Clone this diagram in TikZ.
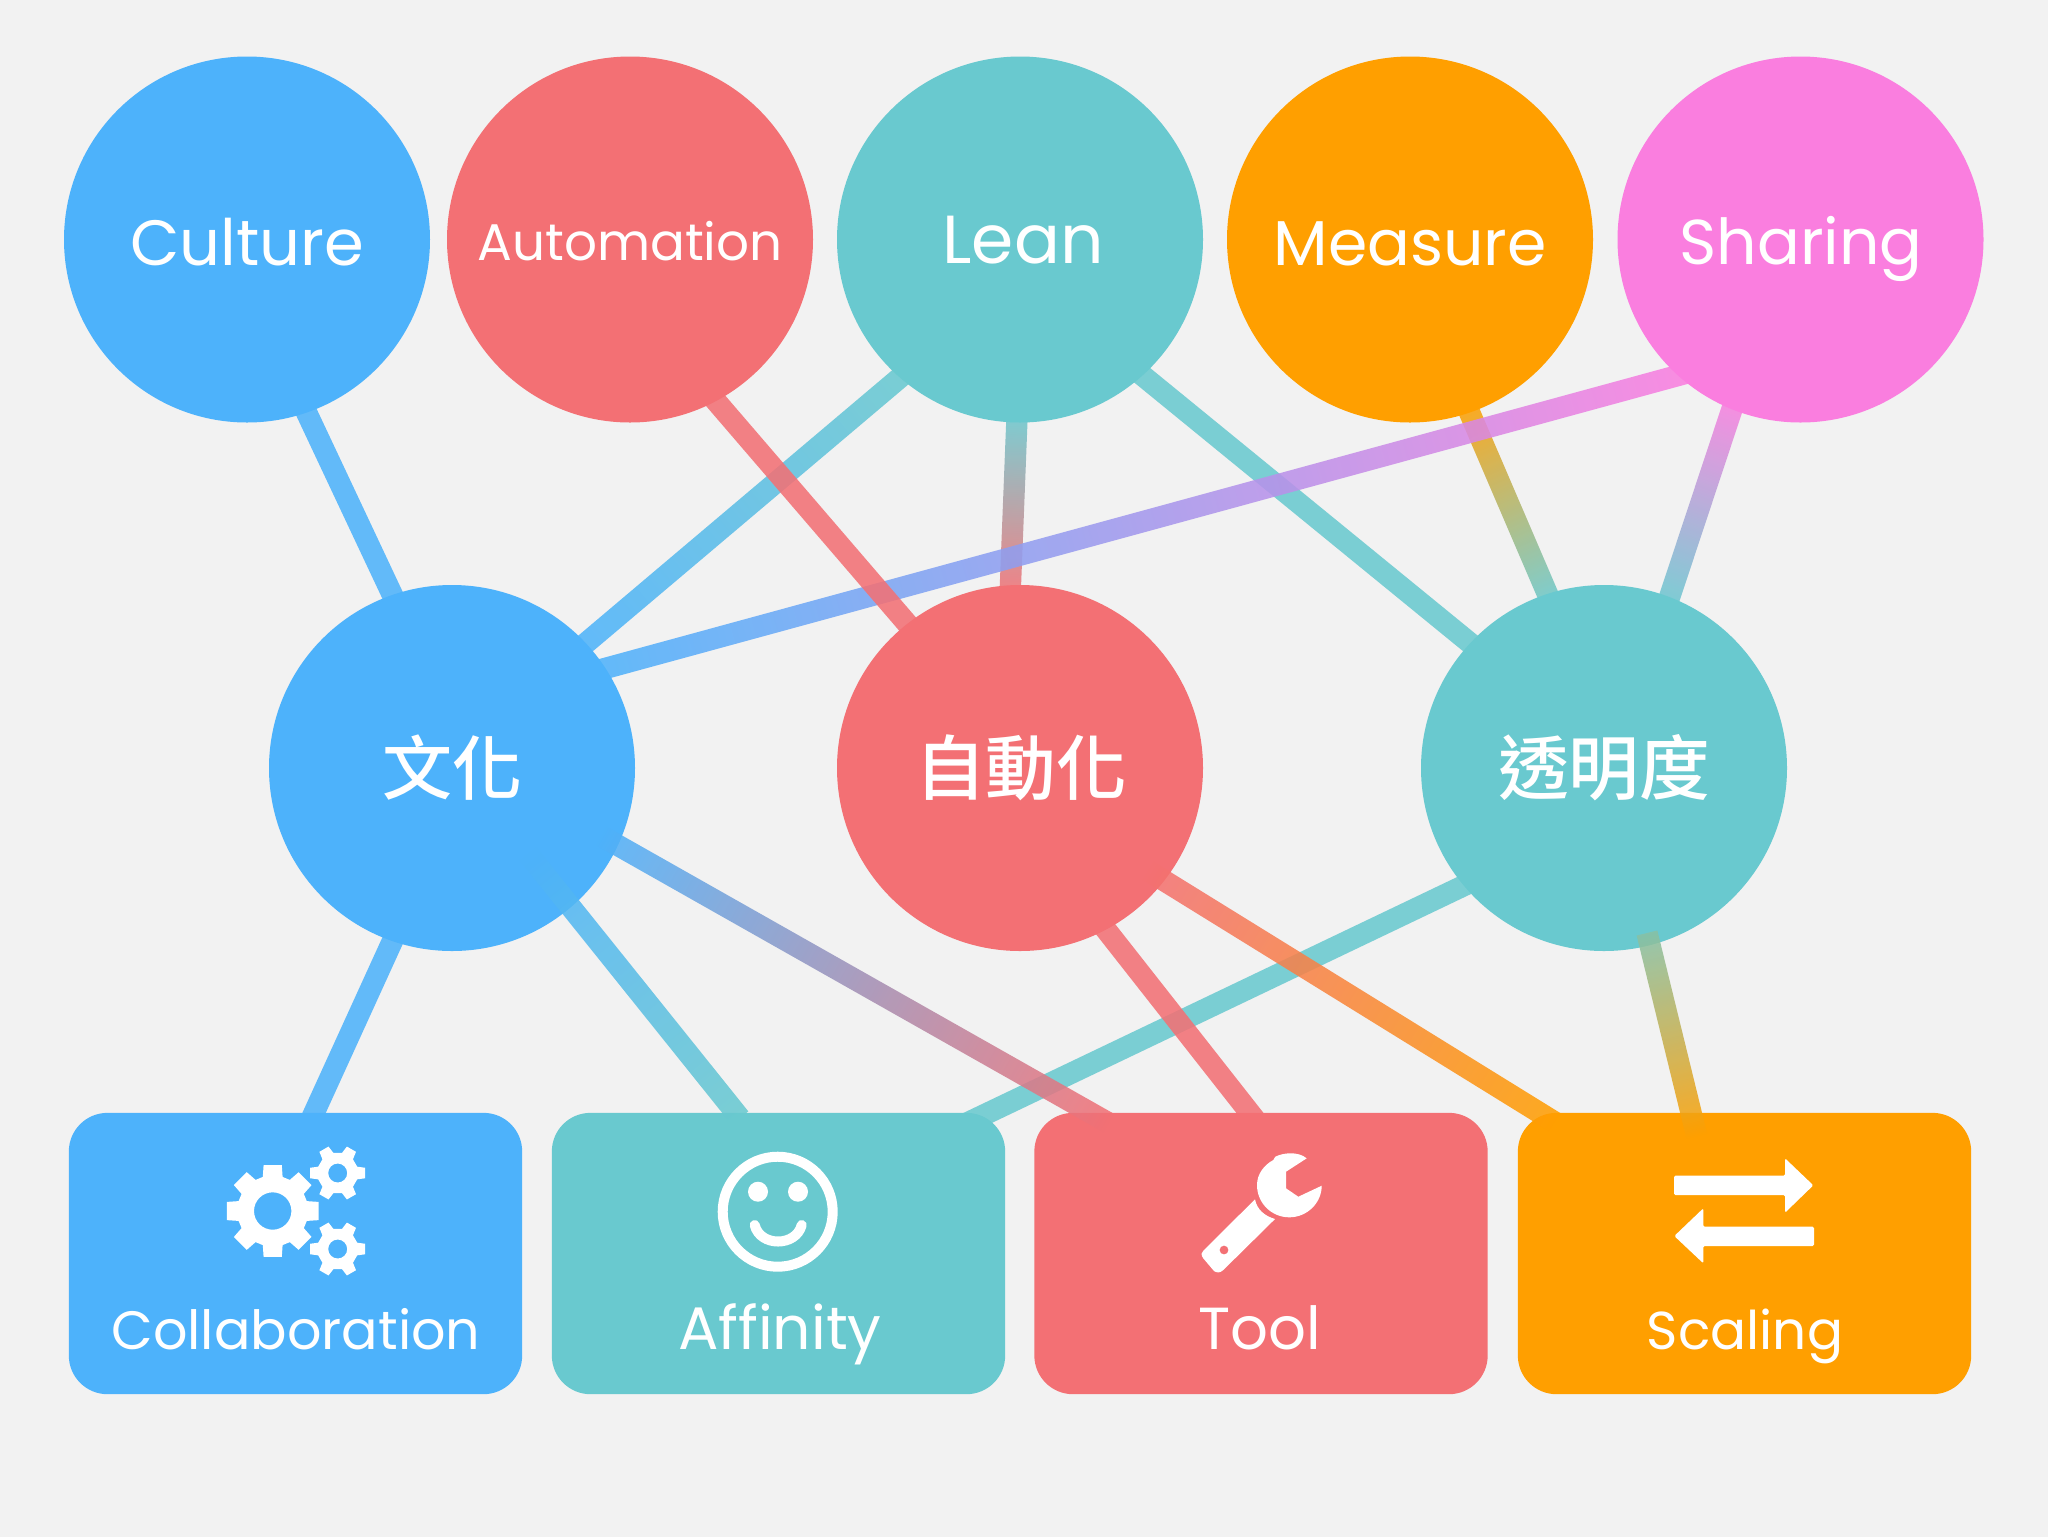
\documentclass[tikz,border=0pt]{standalone}
\usepackage{fontspec}
\usetikzlibrary{calc}
\setmainfont{Poppins}
\newfontfamily\cjk{Noto Sans CJK TC}[UprightFont=* Medium]
\definecolor{bgc}{HTML}{F2F2F2}
\definecolor{cblue}{HTML}{4DB2FB}
\definecolor{cred}{HTML}{F37074}
\definecolor{cteal}{HTML}{69C9CF}
\definecolor{corange}{HTML}{FF9F00}
\definecolor{cpink}{HTML}{FA7EDF}
\pgfdeclarelayer{bg}\pgfdeclarelayer{back}\pgfdeclarelayer{front}
\pgfsetlayers{bg,back,main,front}
\tikzset{
  bub/.style={circle,minimum size=274.5pt,inner sep=0pt,outer sep=0pt,fill=#1},
  card/.style={rectangle,rounded corners=29pt,minimum width=340pt,minimum height=211pt,inner sep=0pt,outer sep=0pt,fill=#1},
  lab/.style={text=white,inner sep=0pt,anchor=base},
  icon/.style={fill=white,draw=none},
  iconline/.style={draw=white,line width=7.5pt,fill=none}
}
% gradient connector between two named points: [extension]{from}{to}{colour}{colour}
\newcommand{\glink}[5][10]{%
  \path let \p1=(#2),\p2=(#3),\n1={atan2(\y2-\y1,\x2-\x1)},\n2={veclen(\x2-\x1,\y2-\y1)} in
    \pgfextra{\xdef\gA{\n1}\xdef\gL{\n2}\xdef\gX{\x1}\xdef\gY{\y1}};
  \begin{scope}[transform canvas={shift={(\gX,\gY)},rotate=\gA}]
    \path[left color=#4,right color=#5,opacity=.87]
      ({-#1*0.75pt},-8pt) rectangle ({\gL+#1*0.75pt},8pt);
  \end{scope}}
\newcommand{\gearicon}[9]{% cx cy teeth outer root hole rot basewidth tipwidth
  \begin{scope}[shift={(#1,#2)}]
    \pgfmathsetmacro{\gstep}{360/#3}
    \pgfmathsetmacro{\gwa}{\gstep*#8}
    \pgfmathsetmacro{\gwb}{\gstep*#9}
    \fill[icon,even odd rule] (0,0) circle[radius=#6]
      ({#7-\gwa}:#5)
      \foreach \k in {1,...,#3}{
        -- ({#7+(\k-1)*\gstep-\gwa}:#5)
        -- ({#7+(\k-1)*\gstep-\gwb}:#4)
        -- ({#7+(\k-1)*\gstep+\gwb}:#4)
        -- ({#7+(\k-1)*\gstep+\gwa}:#5)
      } -- cycle;
  \end{scope}}
\begin{document}
\begin{tikzpicture}[x=0.75pt,y=-0.75pt]
\useasboundingbox (0,0) rectangle (2048,1536);
\begin{pgfonlayer}{bg}
  \fill[bgc] (-5,-5) rectangle (2053,1541);
\end{pgfonlayer}
% circles
\node[bub=cblue]   (culture) at (247,239.5) {};
\node[bub=cred]    (auto)    at (630,239.5) {};
\node[bub=cteal]   (lean)    at (1020,239.5) {};
\node[bub=corange] (measure) at (1410,239.5) {};
\node[bub=cpink]   (sharing) at (1800.5,239.5) {};
\node[bub=cblue]   (bunka)   at (452,768) {};
\node[bub=cred]    (jido)    at (1020,768) {};
\node[bub=cteal]   (toumei)  at (1604,768) {};
% cards
\node[card=cblue]   (collab)  at (295.5,1253.5) {};
\node[card=cteal]   (affin)   at (778.5,1253.5) {};
\node[card=cred]    (tool)    at (1261,1253.5) {};
\node[card=corange] (scaling) at (1744.5,1253.5) {};
% free ends
\coordinate (collabTop) at (314,1113);
\coordinate (affinTop)  at (740,1118);
\coordinate (affinCorner) at (967,1123);
\coordinate (toolTopA)  at (1091,1113);
\coordinate (toolTopB)  at (1250,1113);
\coordinate (scaleTopA) at (1540,1113);
\coordinate (scaleIn)   at (1697,1137);
\coordinate (toumeiIn)  at (1647,933);
\coordinate (bunkaIn)   at (525,850);
% connectors behind the nodes
\begin{pgfonlayer}{back}
  \glink{lean.229.6}{bunka.43.9}{cteal}{cblue}
  \glink{lean.269.4}{jido.93}{cteal}{cred}
  \glink{lean.312.7}{toumei.137.2}{cteal}{cteal}
  \glink{measure.289}{toumei.108}{corange}{cteal}
  \glink{sharing.248.3}{toumei.69.3}{cpink}{cteal}
  \glink{sharing.228}{bunka.33}{cpink}{cblue}
  \glink{auto.298.1}{jido.128.8}{cred}{cred}
  \glink{culture.289.5}{bunka.109}{cblue}{cblue}
  \glink{bunka.251}{collabTop}{cblue}{cblue}
\end{pgfonlayer}
% connectors over the nodes
\begin{pgfonlayer}{front}
  \glink[4]{toumei.220.8}{affinCorner}{cteal}{cteal}
  \glink[0]{toumeiIn}{scaleIn}{cteal!80!corange}{corange}
  \glink[0]{bunkaIn}{affinTop}{cblue}{cteal}
  \glink[22]{bunka.335}{toolTopA}{cblue}{cred}
  \glink[14]{jido.298.5}{toolTopB}{cred}{cred}
  \glink[22]{jido.322}{scaleTopA}{cred}{corange}
\end{pgfonlayer}
% texts
\node[lab,font=\fontsize{48}{48}\selectfont] (tCulture) at (247,265) {Culture};
\node[lab,font=\fontsize{38.7}{38.7}\selectfont] (tAuto) at (630,260.5) {Automation};
\node[lab,font=\fontsize{51}{51}\selectfont] (tLean) at (1023,263) {Lean};
\node[lab,font=\fontsize{47.5}{47.5}\selectfont] (tMeasure) at (1410,265) {Measure};
\node[lab,font=\fontsize{47.5}{47.5}\selectfont] (tSharing) at (1801,264) {Sharing};
\node[text=white,inner sep=0pt,font=\cjk\fontsize{52.5}{52.5}\selectfont] (tBunka) at (452,768) {文化};
\node[text=white,inner sep=0pt,font=\cjk\fontsize{53}{53}\selectfont] (tJido) at (1021,768) {自動化};
\node[text=white,inner sep=0pt,font=\cjk\fontsize{53}{53}\selectfont] (tToumei) at (1604,768) {透明度};
\node[lab,font=\fontsize{40.5}{40.5}\selectfont] (tCollab) at (296,1349.5) {Collaboration};
\node[lab,font=\fontsize{45}{45}\selectfont] (tAffin) at (780,1349.5) {Affinity};
\node[lab,font=\fontsize{44.5}{44.5}\selectfont] (tTool) at (1260,1349.5) {Tool};
\node[lab,font=\fontsize{40}{40}\selectfont] (tScale) at (1745,1349.5) {Scaling};
% gears
\gearicon{272.7}{1211}{8}{46.7}{35.5}{18.7}{0}{0.36}{0.25}
\gearicon{337.7}{1173}{6}{28}{20.5}{9.5}{0}{0.30}{0.18}
\gearicon{337.7}{1249}{6}{28}{20.5}{9.5}{0}{0.30}{0.18}
% smiley
\draw[iconline] (777.7,1211.7) circle[radius=55];
\fill[icon] (758,1191.7) circle[radius=10];
\fill[icon] (798,1191.7) circle[radius=10];
\draw[iconline,line cap=round] (754.7,1225) .. controls (760,1247) and (796,1247) .. (801.7,1225);
% wrench
\fill[icon] (1306.7,1158.3) -- (1286,1171.7) -- (1286,1188.3) -- (1298.3,1196.7) -- (1321.7,1185.7)
  .. controls (1321.7,1203) and (1307,1217.3) .. (1289.3,1217.3)
  .. controls (1271.5,1217.3) and (1257,1203) .. (1257,1185)
  .. controls (1257,1174) and (1264,1165) .. (1273.3,1160)
  -- (1275.3,1156.7)
  .. controls (1283,1152.7) and (1298,1151) .. (1306.7,1158.3) -- cycle;
\fill[icon,even odd rule] (1224,1250) circle[radius=4.5]
  (1255,1199.3) .. controls (1257,1210) and (1265,1216) .. (1275,1219)
  -- (1223.3,1270) .. controls (1220,1273) and (1217,1273) .. (1214,1271)
  -- (1203,1258) .. controls (1201,1255) and (1201,1252) .. (1203.3,1250.7) -- cycle;
% arrows
\fill[icon,rounded corners=1pt] (1674,1175.7) -- (1785,1175.7) -- (1785,1158.3) -- (1813.3,1185.3) -- (1785,1212.7) -- (1785,1195) -- (1674,1195) -- cycle;
\fill[icon,rounded corners=1pt] (1814,1226.7) -- (1703.3,1226.7) -- (1703.3,1208.3) -- (1674.3,1236) -- (1703.3,1263.3) -- (1703.3,1246) -- (1814,1246) -- cycle;
\end{tikzpicture}
\end{document}
